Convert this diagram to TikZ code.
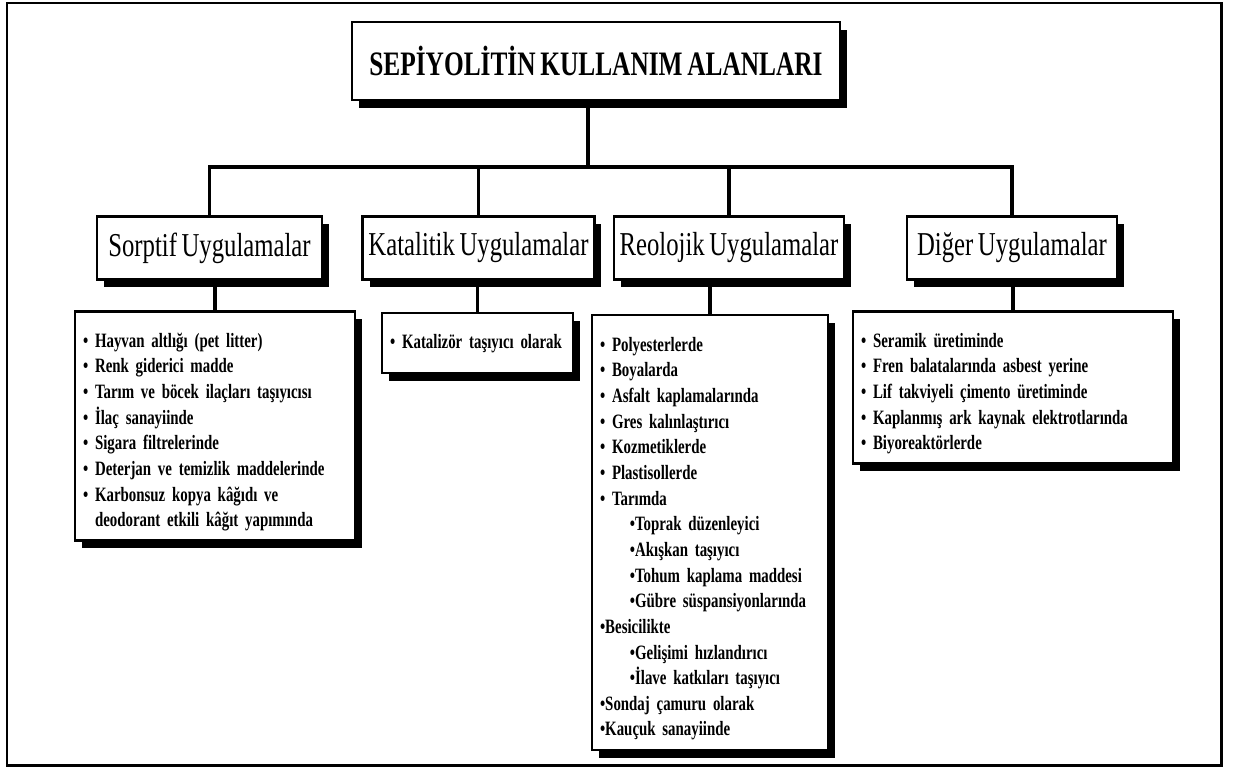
\documentclass[tikz,border=0pt]{standalone}
\usepackage{fontspec}
\setmainfont{Liberation Serif}
\newfontfamily\darserif[FakeStretch=0.74, WordSpace=0.75]{Liberation Serif}
\newfontfamily\listeserif[FakeStretch=0.73, WordSpace=0.8]{Liberation Serif}
\usepackage{tikz}
\usetikzlibrary{shadows}

\begin{document}
\begin{tikzpicture}[x=0.02cm, y=-0.02cm,
  kutu/.style={draw, line width=1.3pt, fill=white,
    drop shadow={shadow xshift=4pt, shadow yshift=-4.5pt, fill=black, opacity=1}},
  baslikkutu/.style={kutu, font=\darserif\bfseries\fontsize{19.5}{21}\selectfont},
  grupkutu/.style={kutu, font=\darserif\fontsize{19}{20}\selectfont, minimum height=1.26cm},
  listekutu/.style={kutu, align=left, inner xsep=0.16cm,
    font=\listeserif\bfseries\fontsize{11.6}{14.6}\selectfont},
  hat/.style={line width=2.2pt}]
  \useasboundingbox (0,0) rectangle (1238,768);
  \draw[line width=1.7pt] (7,3) rectangle (1221,765);

  \node[baslikkutu, minimum width=9.76cm, minimum height=1.56cm] (baslik) at (596,61)
    {SEPİYOLİTİN KULLANIM ALANLARI};

  \node[grupkutu, minimum width=4.5cm] (sorptif) at (209.5,248) {Sorptif Uygulamalar};
  \node[grupkutu, minimum width=4.46cm] (katalitik) at (478.5,248) {Katalitik Uygulamalar};
  \node[grupkutu, minimum width=4.52cm] (reolojik) at (729,248) {Reolojik Uygulamalar};
  \node[grupkutu, minimum width=4.2cm] (diger) at (1012,248) {Diğer Uygulamalar};

  \node[listekutu, text width=5.28cm, minimum height=4.56cm] (sorptifliste) at (215,426) {%
    \begin{tabular}{@{}l@{}}
    \rule{0pt}{17pt}\textbullet\ Hayvan altlığı (pet litter)\\
    \textbullet\ Renk giderici madde\\
    \textbullet\ Tarım ve böcek ilaçları taşıyıcısı\\
    \textbullet\ İlaç sanayiinde\\
    \textbullet\ Sigara filtrelerinde\\
    \textbullet\ Deterjan ve temizlik maddelerinde\\
    \textbullet\ Karbonsuz kopya kâğıdı ve\\
    \phantom{\textbullet\ }deodorant etkili kâğıt yapımında
    \end{tabular}};
  \node[listekutu, text width=3.5cm, minimum height=1.2cm] (katalitikliste) at (477.5,343) {%
    \begin{tabular}{@{}l@{}}
    \textbullet\ Katalizör taşıyıcı olarak
    \end{tabular}};
  \node[listekutu, text width=4.4cm, minimum height=8.7cm] (reoliste) at (710,532.5) {%
    \begin{tabular}{@{}l@{}}
    \rule{0pt}{17pt}\textbullet\ Polyesterlerde\\
    \textbullet\ Boyalarda\\
    \textbullet\ Asfalt kaplamalarında\\
    \textbullet\ Gres kalınlaştırıcı\\
    \textbullet\ Kozmetiklerde\\
    \textbullet\ Plastisollerde\\
    \textbullet\ Tarımda\\
    \hspace*{17pt}\textbullet Toprak düzenleyici\\
    \hspace*{17pt}\textbullet Akışkan taşıyıcı\\
    \hspace*{17pt}\textbullet Tohum kaplama maddesi\\
    \hspace*{17pt}\textbullet Gübre süspansiyonlarında\\
    \textbullet Besicilikte\\
    \hspace*{17pt}\textbullet Gelişimi hızlandırıcı\\
    \hspace*{17pt}\textbullet İlave katkıları taşıyıcı\\
    \textbullet Sondaj çamuru olarak\\
    \textbullet Kauçuk sanayiinde
    \end{tabular}};
  \node[listekutu, text width=6.08cm, minimum height=3.02cm] (digerliste) at (1013,387.5) {%
    \begin{tabular}{@{}l@{}}
    \rule{0pt}{17pt}\textbullet\ Seramik üretiminde\\
    \textbullet\ Fren balatalarında asbest yerine\\
    \textbullet\ Lif takviyeli çimento üretiminde\\
    \textbullet\ Kaplanmış ark kaynak elektrotlarında\\
    \textbullet\ Biyoreaktörlerde
    \end{tabular}};

  % baglantilar
  \coordinate (bus) at (588,167);
  \draw[hat] (baslik.south -| bus) -- (bus);
  \draw[hat] (sorptif.north) -- (sorptif.north |- bus) -- (diger.north |- bus) -- (diger.north);
  \draw[hat] (katalitik.north) -- (katalitik.north |- bus);
  \draw[hat] (reolojik.north) -- (reolojik.north |- bus);
  \draw[hat] (sorptifliste.north |- sorptif.south) -- (sorptifliste.north);
  \draw[hat] (katalitikliste.north |- katalitik.south) -- (katalitikliste.north);
  \draw[hat] (reoliste.north |- reolojik.south) -- (reoliste.north);
  \draw[hat] (digerliste.north |- diger.south) -- (digerliste.north);
\end{tikzpicture}
\end{document}
